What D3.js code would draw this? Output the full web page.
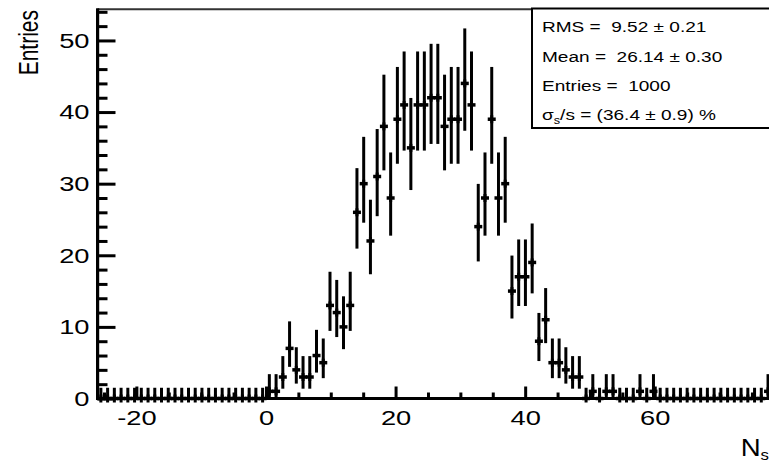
<!DOCTYPE html>
<html><head><meta charset="utf-8">
<script src="https://cdn.jsdelivr.net/npm/d3@7/dist/d3.min.js"></script>
<style>
body{margin:0;background:#fff;}
svg{display:block;background:#fff;}
text{font-family:"Liberation Sans",Arial,Helvetica,sans-serif;fill:#000;white-space:pre;}
</style>
</head><body>
<svg id="chart" width="769" height="463"></svg>
<script>
// ---- histogram definition (100 bins) ----
const histMin = -26, histMax = 78, nBins = 100;
const yMax = 54.35;

// bin contents, bins 0..99
const counts = [
  0,0,0,0,0,0,0,0,0,0,0,0,0,0,0,0,0,0,0,0,0,0,0,0,0,
  1,1,3,7,4,3,3,6,5,13,12,10,13,
  26,30,22,31,38,28,39,41,35,41,41,42,42,
  38,39,39,44,41,24,28,39,28,30,
  15,17,17,19,8,11,5,5,4,3,3,
  0,1,0,1,1,0,0,0,1,0,1,
  0,0,0,0,0,0,0,0,0,0,0,0,0,0,0,0,
  1
];
// lower error (asymmetric Poisson)
const errLow = [
  0,0,0,0,0,0,0,0,0,0,0,0,0,0,0,0,0,0,0,0,0,0,0,0,0,
  0.83,0.83,1.63,2.58,1.92,1.63,1.63,2.38,2.16,3.56,3.42,3.11,3.56,
  5.07,5.45,4.65,5.54,6.14,5.26,6.22,6.38,5.89,6.38,6.38,6.45,6.45,
  6.14,6.22,6.22,6.61,6.38,4.86,5.26,6.22,5.26,5.45,
  3.83,4.08,4.08,4.32,2.77,3.27,2.16,2.16,1.92,1.63,1.63,
  0,0.83,0,0.83,0.83,0,0,0,0.83,0,0.83,
  0,0,0,0,0,0,0,0,0,0,0,0,0,0,0,0,
  0.83
];
// upper error (asymmetric Poisson)
const errHigh = [
  1.5,1.5,1.5,1.5,1.5,1.5,1.5,1.5,1.5,1.5,1.5,1.5,1.5,1.5,1.5,1.5,1.5,1.5,1.5,1.5,1.5,1.5,1.5,1.5,1.5,
  2.40,2.40,2.92,3.77,3.16,2.92,2.92,3.59,3.38,4.70,4.56,4.27,4.70,
  6.17,6.54,5.76,6.63,7.22,6.36,7.30,7.46,6.97,7.46,7.46,7.53,7.53,
  7.22,7.30,7.30,7.68,7.46,5.97,6.36,7.30,6.36,6.54,
  4.96,5.21,5.21,5.44,3.95,4.42,3.38,3.38,3.16,2.92,2.92,
  1.5,2.40,1.5,2.40,2.40,1.5,1.5,1.5,2.40,1.5,2.40,
  1.5,1.5,1.5,1.5,1.5,1.5,1.5,1.5,1.5,1.5,1.5,1.5,1.5,1.5,1.5,1.5,
  2.40
];

const yTickValues = [0,10,20,30,40,50];
const yTickLabels = ["0","10","20","30","40","50"];
const xTickValues = [-20,0,20,40,60];
const xTickLabels = ["-20","0","20","40","60"];
const xTitle = "N", xTitleSub = "s";
const yTitle = "Entries";
const statLines = [
  {pre:"", sub:"", text:"RMS =  9.52 \u00b1 0.21"},
  {pre:"", sub:"", text:"Mean =  26.14 \u00b1 0.30"},
  {pre:"", sub:"", text:"Entries =  1000"},
  {pre:"\u03c3", sub:"s", text:"/s = (36.4 \u00b1 0.9) %"}
];

// ---- layout ----
const SX = 1.3; // horizontal stretch of glyphs
const svg = d3.select("#chart");

const binW = (histMax - histMin) / nBins;
const bins = counts.map((c,i) => ({
  center: histMin + binW*(i+0.5), n: c, lo: errLow[i], hi: errHigh[i]
}));

const x = d3.scaleLinear().domain([histMin, histMax]).range([97.5, 771.4]);
const y = d3.scaleLinear().domain([0, yMax]).range([398.5, 9.3]);

// frame (top & right)
svg.append("path")
  .attr("d", `M${x(histMin)},${y(yMax)}H${x(histMax)}V${y(0)}`)
  .attr("fill","none").attr("stroke","#333").attr("stroke-width",2);

// data: error bars + "+" markers
const gData = svg.append("g").attr("stroke","#000");
gData.selectAll("line.err").data(bins).join("line")
  .attr("class","err")
  .attr("x1", d => x(d.center)).attr("x2", d => x(d.center))
  .attr("y1", d => y(d.n - d.lo)).attr("y2", d => y(d.n + d.hi))
  .attr("stroke-width",3);
gData.selectAll("line.mkh").data(bins).join("line")
  .attr("class","mkh")
  .attr("x1", d => x(d.center) - 4).attr("x2", d => x(d.center) + 4)
  .attr("y1", d => y(d.n)).attr("y2", d => y(d.n))
  .attr("stroke-width",3.5);
gData.selectAll("line.mkv").data(bins).join("line")
  .attr("class","mkv")
  .attr("x1", d => x(d.center)).attr("x2", d => x(d.center))
  .attr("y1", d => y(d.n) - 4).attr("y2", d => y(d.n) + 4)
  .attr("stroke-width",3);

// axes
const minorY = d3.range(0, yMax, 2).filter(v => v % 10 !== 0);
const minorX = d3.range(-25, histMax, 5).filter(v => v % 20 !== 0);

const gY = svg.append("g").attr("transform", `translate(${x(histMin)},0)`);
gY.call(d3.axisLeft(y).tickValues(minorY).tickSizeInner(-10).tickSizeOuter(0).tickFormat(""));
gY.selectAll(".tick text").remove();
const gY2 = svg.append("g").attr("transform", `translate(${x(histMin)},0)`);
gY2.call(d3.axisLeft(y).tickValues(yTickValues)
  .tickFormat((d,i) => yTickLabels[i]).tickSizeInner(-18).tickSizeOuter(0).tickPadding(8));
gY2.selectAll(".tick text")
  .attr("x", -8/SX).attr("transform", `scale(${SX},1)`)
  .attr("font-size", 21).attr("font-family", null);

const gX = svg.append("g").attr("transform", `translate(0,${y(0)})`);
gX.call(d3.axisBottom(x).tickValues(minorX).tickSizeInner(-6).tickSizeOuter(0).tickFormat(""));
gX.selectAll(".tick text").remove();
const gX2 = svg.append("g").attr("transform", `translate(0,${y(0)})`);
gX2.call(d3.axisBottom(x).tickValues(xTickValues)
  .tickFormat((d,i) => xTickLabels[i]).tickSizeInner(-12).tickSizeOuter(0).tickPadding(12));
gX2.selectAll(".tick text")
  .attr("transform", `scale(${SX},1)`)
  .attr("font-size", 21).attr("font-family", null);

svg.selectAll(".domain").remove();
svg.selectAll(".tick line").attr("stroke","#000").attr("stroke-width",3);

// axis lines (drawn over)
svg.append("rect").attr("x", 96).attr("y", y(yMax) - 1)
  .attr("width", 3.2).attr("height", y(0) - y(yMax) + 2.5).attr("fill","#000");
svg.append("rect").attr("x", 96).attr("y", y(0) - 1.5)
  .attr("width", x(histMax) - 96).attr("height", 3).attr("fill","#000");

// axis titles
svg.append("text")
  .attr("transform", `translate(38,10) scale(${SX},1) rotate(-90)`)
  .attr("text-anchor","end").attr("font-size",21).text(yTitle);

const xt = svg.append("text")
  .attr("transform", `translate(769,456) scale(1.2,1)`)
  .attr("text-anchor","end").attr("font-size",23);
xt.append("tspan").text(xTitle);
xt.append("tspan").attr("font-size",14).attr("dy",4).text(xTitleSub);

// stats box
svg.append("rect").attr("x",532).attr("y",8.5).attr("width",260).attr("height",119.5)
  .attr("fill","#fff").attr("stroke","#000").attr("stroke-width",2);
const baselines = [32, 61.5, 91, 120];
statLines.forEach((s,i) => {
  const t = svg.append("text")
    .attr("transform", `translate(542,${baselines[i]}) scale(1.27,1)`)
    .attr("font-size",15).attr("xml:space","preserve");
  if (s.pre) {
    t.append("tspan").text(s.pre);
    t.append("tspan").attr("font-size",10).attr("dy",4).text(s.sub);
    t.append("tspan").attr("dy",-4).text(s.text);
  } else {
    t.text(s.text);
  }
});
</script>
</body></html>
